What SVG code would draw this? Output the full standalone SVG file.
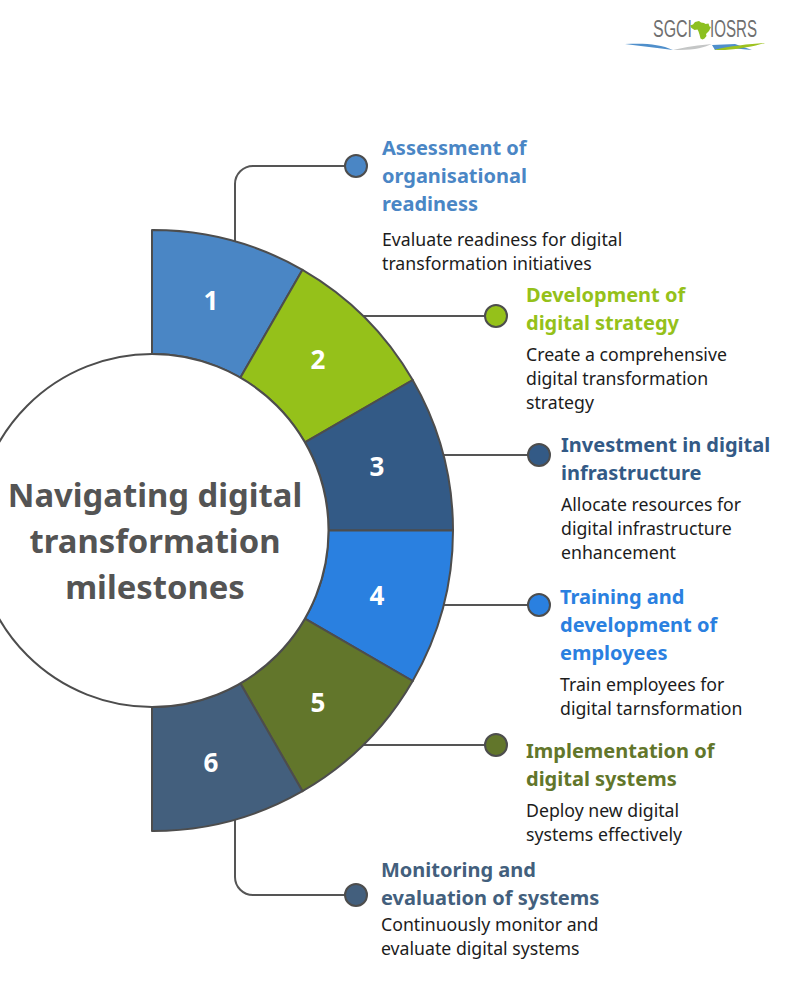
<svg xmlns="http://www.w3.org/2000/svg" width="800" height="999" viewBox="0 0 800 999">
<style>
text{font-family:"Noto Sans","Open Sans",sans-serif}
.seg{stroke:#4d4d4d;stroke-width:2;stroke-linejoin:round}
.dot{stroke:#4d4d4d;stroke-width:2}
.num{fill:#fff;font-size:26px;font-weight:700;text-anchor:middle}
.h{font-size:20px;font-weight:700}
.b{font-size:17.7px;fill:#1c1c1c}
.c{fill:none;stroke:#555;stroke-width:2}
.t{font-size:32.800px;font-weight:700;fill:#545454;text-anchor:middle}
.l{font-size:23px;fill:#6f6f6f;font-family:"Liberation Sans",sans-serif}
</style>
<rect width="800" height="999" fill="#fff"/>
<g id="logo">
<text class="l" x="653" y="37" textLength="39" lengthAdjust="spacingAndGlyphs">SGCI</text>
<text class="l" x="710" y="37" textLength="47" lengthAdjust="spacingAndGlyphs">IOSRS</text>
<path d="M693 24.500l2-2.500 4-1 2 1.500 3 .5 1.500 1 3-.5 1 3 1.500.5-2 4-3 3 .5 2-2 2.500-2 1-2-1-1-4-1-3-1-2-3 .5-3-2-1.500-2.500z" fill="#8cc021"/>
<path d="M625 44C645 43 660 44 673 50C658 48 640 46 625 44Z" fill="#4f8fcb"/>
<path d="M673 50C685 47 700 45 712 44C705 47 695 50 680 50Z" fill="#c4c6c6"/>
<path d="M712 45L735 44L752 50L730 48L715 50Z" fill="#4f8fcb"/>
<path d="M714 50C730 46 750 44 765 43C755 46 740 49 725 50Z" fill="#9dc21f"/>
</g>
<g id="connectors">
<path class="c" d="M235 242V184a18 18 0 0 1 18-18H346"/>
<path class="c" d="M362 316H486"/>
<path class="c" d="M444 455H529"/>
<path class="c" d="M444 605H529"/>
<path class="c" d="M362 745H486"/>
<path class="c" d="M235 819V877a18 18 0 0 0 18 18H346"/>
</g>
<g id="node-1">
<path class="seg" fill="#4a86c5" d="M152 230A301 301 0 0 1 302.500 269.800L240.300 377.700A176.500 176.500 0 0 0 152 354Z"/>
<text class="num" x="211" y="310">1</text>
<circle class="dot" cx="356" cy="166" r="11" fill="#4a86c5"/>
<text class="h" fill="#4a86c5"><tspan x="382" y="155">Assessment of</tspan><tspan x="382" y="183">organisational</tspan><tspan x="382" y="211">readiness</tspan></text>
<text class="b"><tspan x="382" y="246">Evaluate readiness for digital</tspan><tspan x="382" y="270">transformation initiatives</tspan></text>
</g>
<g id="node-2">
<path class="seg" fill="#95c11a" d="M302.500 269.800A301 301 0 0 1 412.700 380L304.900 442.300A176.500 176.500 0 0 0 240.300 377.700Z"/>
<text class="num" x="318" y="369">2</text>
<circle class="dot" cx="496" cy="316" r="11" fill="#95c11a"/>
<text class="h" fill="#95c11a"><tspan x="526" y="302">Development of</tspan><tspan x="526" y="330">digital strategy</tspan></text>
<text class="b"><tspan x="526" y="361">Create a comprehensive</tspan><tspan x="526" y="385">digital transformation</tspan><tspan x="526" y="409">strategy</tspan></text>
</g>
<g id="node-3">
<path class="seg" fill="#335a86" d="M412.700 380A301 301 0 0 1 453 530.500H328.500A176.500 176.500 0 0 0 304.900 442.300Z"/>
<text class="num" x="377" y="476">3</text>
<circle class="dot" cx="539" cy="455" r="11" fill="#335a86"/>
<text class="h" fill="#335a86"><tspan x="561" y="452">Investment in digital</tspan><tspan x="561" y="480">infrastructure</tspan></text>
<text class="b"><tspan x="561" y="511">Allocate resources for</tspan><tspan x="561" y="535">digital infrastructure</tspan><tspan x="561" y="559">enhancement</tspan></text>
</g>
<g id="node-4">
<path class="seg" fill="#2a80e0" d="M453 530.500A301 301 0 0 1 412.700 681L304.900 618.700A176.500 176.500 0 0 0 328.500 530.500Z"/>
<text class="num" x="377" y="605">4</text>
<circle class="dot" cx="539" cy="605" r="11" fill="#2a80e0"/>
<text class="h" fill="#2a80e0"><tspan x="560" y="604">Training and</tspan><tspan x="560" y="632">development of</tspan><tspan x="560" y="660">employees</tspan></text>
<text class="b"><tspan x="560" y="691">Train employees for</tspan><tspan x="560" y="715">digital tarnsformation</tspan></text>
</g>
<g id="node-5">
<path class="seg" fill="#62762b" d="M412.700 681A301 301 0 0 1 302.500 791.200L240.300 683.300A176.500 176.500 0 0 0 304.900 618.700Z"/>
<text class="num" x="318" y="712">5</text>
<circle class="dot" cx="496" cy="745" r="11" fill="#62762b"/>
<text class="h" fill="#62762b"><tspan x="526" y="758">Implementation of</tspan><tspan x="526" y="786">digital systems</tspan></text>
<text class="b"><tspan x="526" y="817">Deploy new digital</tspan><tspan x="526" y="841">systems effectively</tspan></text>
</g>
<g id="node-6">
<path class="seg" fill="#435f7d" d="M302.500 791.200A301 301 0 0 1 152 831V707A176.500 176.500 0 0 0 240.300 683.300Z"/>
<text class="num" x="211" y="772">6</text>
<circle class="dot" cx="356" cy="895" r="11" fill="#435f7d"/>
<text class="h" fill="#435f7d"><tspan x="381" y="877">Monitoring and</tspan><tspan x="381" y="905">evaluation of systems</tspan></text>
<text class="b"><tspan x="381" y="931">Continuously monitor and</tspan><tspan x="381" y="955">evaluate digital systems</tspan></text>
</g>
<g id="center">
<circle cx="152" cy="530.500" r="176.500" fill="#fff" stroke="#4d4d4d" stroke-width="2"/>
<text class="t"><tspan x="155" y="507">Navigating digital</tspan><tspan x="155" y="553">transformation</tspan><tspan x="155" y="599">milestones</tspan></text>
</g>
</svg>
